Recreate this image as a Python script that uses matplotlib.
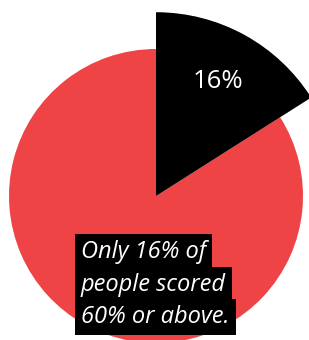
import matplotlib
matplotlib.use("Agg")
import matplotlib.pyplot as plt
from matplotlib import patheffects as pe

categories = ["Scored 60% or above", "Scored below 60%"]
values = [16, 84]
colors = ["#000000", "#EF4446"]
label_text = "16%"
note_lines = ["Only 16% of", "people scored", "60% or above."]

W, H = 309, 340
fig = plt.figure(figsize=(W / 100, H / 100), dpi=100)
ax = fig.add_axes([0, 0, 1, 1])
ax.set_axis_off()

wedges, _ = ax.pie(values, colors=colors, startangle=90, counterclock=False,
                   radius=1.0, wedgeprops=dict(linewidth=0))
wedges[0].set_radius(1.25)
wedges[0].set_zorder(3)
wedges[0].set_path_effects([pe.SimplePatchShadow(offset=(0, 0), shadow_rgbFace="#777777", alpha=0.35),
                            pe.Normal()])

cx, cy, r = 156, 196, 147
ax.set_xlim(-cx / r, (W - cx) / r)
ax.set_ylim(-(H - cy) / r, cy / r)
ax.set_aspect("auto")

ax.text(0.42, 0.78, label_text, color="white", fontsize=18.5, family="Open Sans",
        ha="center", va="center", zorder=5)

ys = [252, 285, 317]
for line, yp in zip(note_lines, ys):
    fig.text(81 / W, 1 - yp / H, line, color="white", fontsize=17, family="Open Sans",
             style="italic", ha="left", va="center", zorder=6,
             bbox=dict(boxstyle="square,pad=0.26", facecolor="black", edgecolor="none"))

fig.savefig("out.png", dpi=100)
